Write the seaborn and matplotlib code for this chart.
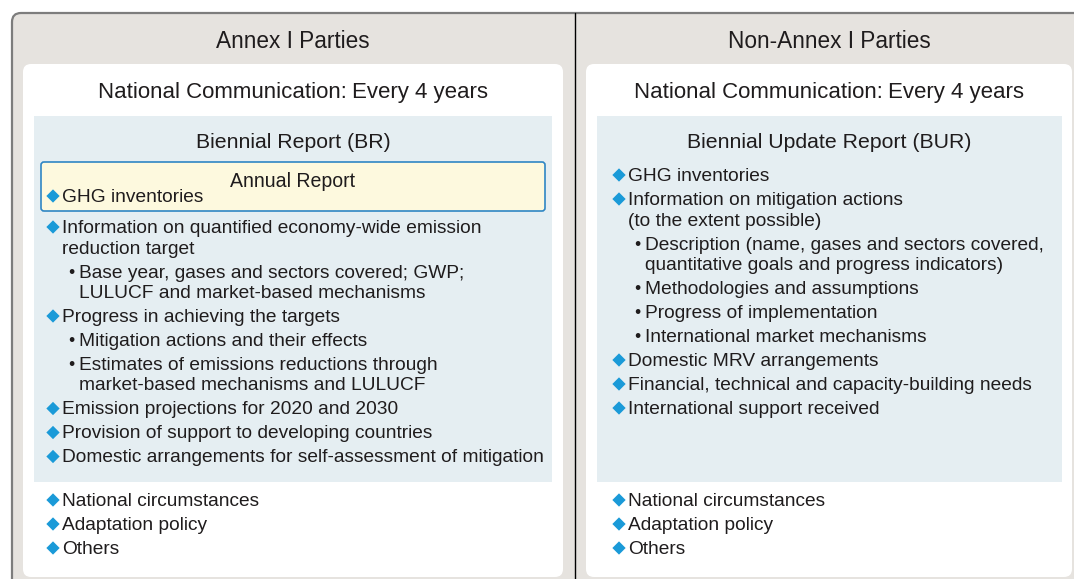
import matplotlib.pyplot as plt
import seaborn as sns
from matplotlib.patches import FancyBboxPatch

sns.set_style("white")
plt.rcParams['font.family'] = ['Liberation Sans', 'DejaVu Sans']

# 文本数据
party_titles = ["Annex I Parties", "Non-Annex I Parties"]
nc_label = "National Communication:"
nc_freq = "Every 4 years"
report_titles = ["Biennial Report (BR)", "Biennial Update Report (BUR)"]
annual_title = "Annual Report"
annual_items = ["GHG inventories"]

br_texts = [
    "Information on quantified economy-wide emission\nreduction target",
    "Base year, gases and sectors covered; GWP;\nLULUCF and market-based mechanisms",
    "Progress in achieving the targets",
    "Mitigation actions and their effects",
    "Estimates of emissions reductions through\nmarket-based mechanisms and LULUCF",
    "Emission projections for 2020 and 2030",
    "Provision of support to developing countries",
    "Domestic arrangements for self-assessment of mitigation",
]
br_levels = [1, 2, 1, 2, 2, 1, 1, 1]

bur_texts = [
    "GHG inventories",
    "Information on mitigation actions\n(to the extent possible)",
    "Description (name, gases and sectors covered,\nquantitative goals and progress indicators)",
    "Methodologies and assumptions",
    "Progress of implementation",
    "International market mechanisms",
    "Domestic MRV arrangements",
    "Financial, technical and capacity-building needs",
    "International support received",
]
bur_levels = [1, 1, 2, 2, 2, 2, 1, 1, 1]

nc_texts = ["National circumstances", "Adaptation policy", "Others"]
nc_levels = [1, 1, 1]

# 颜色
GRAY_BG = '#e6e3df'
PANEL_BLUE = '#e5eef2'
DIAMOND = '#1a9ad8'
TXT = '#1f1c1d'

fig = plt.figure(figsize=(10.74, 5.79), dpi=100)
ax = fig.add_axes([0, 0, 1, 1])
ax.set_xlim(0, 1074)
ax.set_ylim(579, 0)
ax.axis('off')


def rbox(x, y, w, h, fc, ec='none', lw=0, r=8, z=1, clip=True):
    p = FancyBboxPatch((x, y), w, h,
                       boxstyle=f"round,pad=0,rounding_size={r}",
                       fc=fc, ec=ec, lw=lw, zorder=z)
    p.set_clip_on(clip)
    ax.add_patch(p)


# 外框（右侧和底部超出画面）
rbox(12, 13, 1300, 700, GRAY_BG, ec='#7d7d7d', lw=1.6, r=9, z=0, clip=False)
ax.plot([574.5, 574.5], [13, 579], color='black', lw=1, zorder=1)

# 白色面板 + 浅蓝面板
cols = [
    dict(cx=293, white=(23, 540), blue=(34, 518), dx=53),
    dict(cx=829, white=(586, 486), blue=(597, 465), dx=619),
]
for c in cols:
    rbox(c['white'][0], 64, c['white'][1], 513, 'white', r=8, z=1)
    ax.add_patch(plt.Rectangle((c['blue'][0], 116), c['blue'][1], 366,
                               fc=PANEL_BLUE, ec='none', zorder=2))

# 年度报告框
rbox(41, 162, 504, 49, '#fdf9de', ec='#2f86c4', lw=1.2, r=3, z=3)

TS = 16.3
NS = 16.0
RS = 15.3
BS = 13.75
DY = 1.5  # 垂直微调
for c, pt, rt in zip(cols, party_titles, report_titles):
    ax.text(c['cx'], 40 + DY, pt, ha='center', va='center', fontsize=TS, color=TXT)
    ax.text(c['cx'], 141 + DY, rt, ha='center', va='center', fontsize=RS, color=TXT)

# "National Communication: Every 4 years" 居中
fig.canvas.draw()
rend = fig.canvas.get_renderer()
for c in cols:
    a = ax.text(0, 0, nc_label + " ", fontsize=NS)
    b = ax.text(0, 0, nc_freq, fontsize=NS)
    wa = a.get_window_extent(rend).width
    wb = b.get_window_extent(rend).width
    a.remove()
    b.remove()
    x0 = c['cx'] - (wa + wb) / 2
    ax.text(x0, 91 + DY, nc_label, ha='left', va='center', fontsize=NS,
            color=TXT, fontweight='medium')
    ax.text(x0 + wa, 91 + DY, nc_freq, ha='left', va='center', fontsize=NS, color=TXT)

ax.text(cols[0]['cx'], 180 + DY, annual_title, ha='center', va='center',
        fontsize=BS + 0.3, color=TXT, fontweight='medium', zorder=4)

ITEM_STEP = 24
WRAP_STEP = 20.5


def draw_list(texts, levels, x_dia, y0):
    dx, dy = [], []
    y = y0
    for txt, lev in zip(texts, levels):
        lines = txt.split('\n')
        if lev == 1:
            dx.append(x_dia)
            dy.append(y)
            tx = x_dia + 9
        else:
            ax.text(x_dia + 18, y + DY, "\u2022", ha='center', va='center',
                    fontsize=BS - 1, color=TXT, zorder=4)
            tx = x_dia + 26
        for i, ln in enumerate(lines):
            ax.text(tx, y + i * WRAP_STEP + DY, ln, ha='left', va='center',
                    fontsize=BS, color=TXT, zorder=4)
        y += ITEM_STEP + WRAP_STEP * (len(lines) - 1)
    sns.scatterplot(x=dx, y=dy, marker='D', s=46, color=DIAMOND,
                    edgecolor='none', ax=ax, zorder=5, legend=False)


draw_list(annual_items, [1], cols[0]['dx'], 196)
draw_list(br_texts, br_levels, cols[0]['dx'], 227)
draw_list(bur_texts, bur_levels, cols[1]['dx'], 175)
for c in cols:
    draw_list(nc_texts, nc_levels, c['dx'], 500)

ax.set_xlim(0, 1074)
ax.set_ylim(579, 0)
ax.axis('off')
fig.savefig('out.png', dpi=100)
